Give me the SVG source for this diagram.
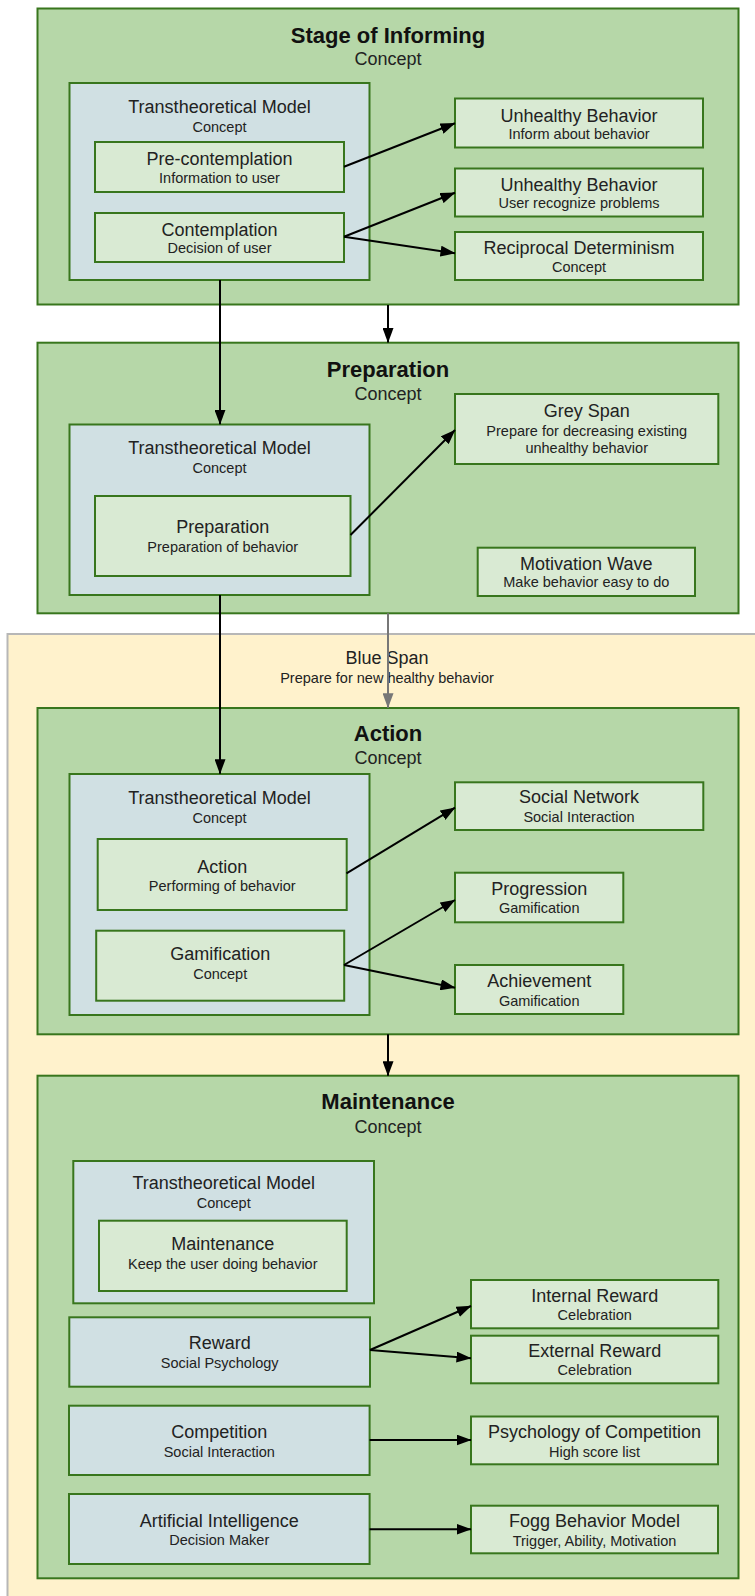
<svg xmlns="http://www.w3.org/2000/svg" width="755" height="1596" viewBox="0 0 755 1596">
  <style>
    .stage { fill: #b6d7a8; stroke: #38761d; stroke-width: 2; }
    .model { fill: #d0e0e3; stroke: #38761d; stroke-width: 2; }
    .leaf  { fill: #d9ead3; stroke: #38761d; stroke-width: 2; }
    .span  { fill: #fff2cc; stroke: #b7b7b7; stroke-width: 2; }
    text { font-family: "Liberation Sans", Arial, sans-serif; text-anchor: middle; fill: #222; }
    .title { font-size: 22px; font-weight: bold; fill: #111; }
    .main  { font-size: 18px; }
    .sub   { font-size: 14.5px; }
    .link  { stroke: #000; stroke-width: 2; fill: none; marker-end: url(#head); }
    .soft  { stroke: #777; stroke-width: 2; fill: none; marker-end: url(#headGrey); }
  </style>
  <defs>
    <marker id="head" markerUnits="userSpaceOnUse" markerWidth="15" markerHeight="11" viewBox="0 0 15 11" refX="14.5" refY="5.5" orient="auto">
      <path d="M0,0 L15,5.5 L0,11 z" fill="#000"/>
    </marker>
    <marker id="headGrey" markerUnits="userSpaceOnUse" markerWidth="15" markerHeight="11" viewBox="0 0 15 11" refX="14.5" refY="5.5" orient="auto">
      <path d="M0,0 L15,5.5 L0,11 z" fill="#777"/>
    </marker>
  </defs>

  <rect width="755" height="1596" fill="#fff"/>

  <!-- Blue Span background band -->
  <g id="blue-span">
    <rect class="span" x="7.5" y="634" width="760" height="975"/>
    <text class="main" x="387" y="664">Blue Span</text>
    <text class="sub" x="387" y="682.7">Prepare for new healthy behavior</text>
  </g>

  <!-- Stage of Informing -->
  <g id="stage-informing">
    <rect class="stage" x="37.5" y="8.5" width="701" height="296"/>
    <text class="title" x="388" y="42.7">Stage of Informing</text>
    <text class="main" x="388" y="65">Concept</text>
  </g>
  <g id="ttm-informing">
    <rect class="model" x="69.5" y="83" width="300" height="197"/>
    <text class="main" x="219.5" y="113.3">Transtheoretical Model</text>
    <text class="sub" x="219.5" y="131.7">Concept</text>
  </g>
  <g id="pre-contemplation">
    <rect class="leaf" x="95" y="142" width="249" height="50"/>
    <text class="main" x="219.5" y="165">Pre-contemplation</text>
    <text class="sub" x="219.5" y="182.7">Information to user</text>
  </g>
  <g id="contemplation">
    <rect class="leaf" x="95" y="213" width="249" height="49"/>
    <text class="main" x="219.5" y="235.5">Contemplation</text>
    <text class="sub" x="219.5" y="253">Decision of user</text>
  </g>
  <g id="unhealthy-inform">
    <rect class="leaf" x="455" y="98.5" width="248" height="49"/>
    <text class="main" x="579" y="121.7">Unhealthy Behavior</text>
    <text class="sub" x="579" y="139">Inform about behavior</text>
  </g>
  <g id="unhealthy-recognize">
    <rect class="leaf" x="455" y="168.5" width="248" height="48"/>
    <text class="main" x="579" y="190.5">Unhealthy Behavior</text>
    <text class="sub" x="579" y="208.3">User recognize problems</text>
  </g>
  <g id="reciprocal-determinism">
    <rect class="leaf" x="455" y="232" width="248" height="48"/>
    <text class="main" x="579" y="253.8">Reciprocal Determinism</text>
    <text class="sub" x="579" y="271.7">Concept</text>
  </g>

  <!-- Preparation -->
  <g id="stage-preparation">
    <rect class="stage" x="37.5" y="342.7" width="701" height="270.6"/>
    <text class="title" x="388" y="376.5">Preparation</text>
    <text class="main" x="388" y="399.5">Concept</text>
  </g>
  <g id="ttm-preparation">
    <rect class="model" x="69.5" y="424.5" width="300" height="170.5"/>
    <text class="main" x="219.5" y="454">Transtheoretical Model</text>
    <text class="sub" x="219.5" y="472.7">Concept</text>
  </g>
  <g id="preparation">
    <rect class="leaf" x="95" y="496" width="255.5" height="80"/>
    <text class="main" x="222.7" y="533.3">Preparation</text>
    <text class="sub" x="222.7" y="551.7">Preparation of behavior</text>
  </g>
  <g id="grey-span">
    <rect class="leaf" x="455" y="394" width="263.3" height="70"/>
    <text class="main" x="586.7" y="417.3">Grey Span</text>
    <text class="sub" x="586.7" y="435.5">Prepare for decreasing existing</text>
    <text class="sub" x="586.7" y="452.8">unhealthy behavior</text>
  </g>
  <g id="motivation-wave">
    <rect class="leaf" x="477.7" y="547.7" width="217.3" height="48.3"/>
    <text class="main" x="586.3" y="570">Motivation Wave</text>
    <text class="sub" x="586.3" y="587.3">Make behavior easy to do</text>
  </g>

  <!-- Action -->
  <g id="stage-action">
    <rect class="stage" x="37.5" y="708" width="701" height="326.3"/>
    <text class="title" x="388" y="741">Action</text>
    <text class="main" x="388" y="764">Concept</text>
  </g>
  <g id="ttm-action">
    <rect class="model" x="69.5" y="774" width="300" height="241"/>
    <text class="main" x="219.5" y="804.3">Transtheoretical Model</text>
    <text class="sub" x="219.5" y="822.7">Concept</text>
  </g>
  <g id="action">
    <rect class="leaf" x="97.7" y="839" width="249" height="71"/>
    <text class="main" x="222.2" y="872.7">Action</text>
    <text class="sub" x="222.2" y="891">Performing of behavior</text>
  </g>
  <g id="gamification">
    <rect class="leaf" x="96.2" y="930.7" width="248" height="70"/>
    <text class="main" x="220.2" y="960">Gamification</text>
    <text class="sub" x="220.2" y="979.3">Concept</text>
  </g>
  <g id="social-network">
    <rect class="leaf" x="455" y="782.3" width="248.3" height="47.7"/>
    <text class="main" x="579" y="803.3">Social Network</text>
    <text class="sub" x="579" y="822.3">Social Interaction</text>
  </g>
  <g id="progression">
    <rect class="leaf" x="455" y="872.7" width="168.3" height="49.6"/>
    <text class="main" x="539.2" y="895">Progression</text>
    <text class="sub" x="539.2" y="913.3">Gamification</text>
  </g>
  <g id="achievement">
    <rect class="leaf" x="455" y="965" width="168.3" height="49"/>
    <text class="main" x="539.2" y="987.3">Achievement</text>
    <text class="sub" x="539.2" y="1005.7">Gamification</text>
  </g>

  <!-- Maintenance -->
  <g id="stage-maintenance">
    <rect class="stage" x="37.5" y="1075.7" width="701" height="502.6"/>
    <text class="title" x="388" y="1109.3">Maintenance</text>
    <text class="main" x="388" y="1132.7">Concept</text>
  </g>
  <g id="ttm-maintenance">
    <rect class="model" x="73.3" y="1161" width="300.7" height="142.3"/>
    <text class="main" x="223.7" y="1189.3">Transtheoretical Model</text>
    <text class="sub" x="223.7" y="1208.3">Concept</text>
  </g>
  <g id="maintenance">
    <rect class="leaf" x="99" y="1220.7" width="247.7" height="70.3"/>
    <text class="main" x="222.8" y="1250">Maintenance</text>
    <text class="sub" x="222.8" y="1269">Keep the user doing behavior</text>
  </g>
  <g id="reward">
    <rect class="model" x="69.3" y="1317.3" width="300.7" height="69.4"/>
    <text class="main" x="219.7" y="1349.3">Reward</text>
    <text class="sub" x="219.7" y="1368.3">Social Psychology</text>
  </g>
  <g id="competition">
    <rect class="model" x="69" y="1405.7" width="300.6" height="69.3"/>
    <text class="main" x="219.3" y="1437.7">Competition</text>
    <text class="sub" x="219.3" y="1456.7">Social Interaction</text>
  </g>
  <g id="artificial-intelligence">
    <rect class="model" x="69" y="1494" width="300.6" height="70"/>
    <text class="main" x="219.3" y="1526.7">Artificial Intelligence</text>
    <text class="sub" x="219.3" y="1545">Decision Maker</text>
  </g>
  <g id="internal-reward">
    <rect class="leaf" x="471" y="1280" width="247.3" height="48.3"/>
    <text class="main" x="594.7" y="1301.7">Internal Reward</text>
    <text class="sub" x="594.7" y="1320">Celebration</text>
  </g>
  <g id="external-reward">
    <rect class="leaf" x="471" y="1335.7" width="247.3" height="47.6"/>
    <text class="main" x="594.7" y="1356.7">External Reward</text>
    <text class="sub" x="594.7" y="1375">Celebration</text>
  </g>
  <g id="psychology-of-competition">
    <rect class="leaf" x="471" y="1416.5" width="247" height="47.8"/>
    <text class="main" x="594.5" y="1438.3">Psychology of Competition</text>
    <text class="sub" x="594.5" y="1456.7">High score list</text>
  </g>
  <g id="fogg-behavior-model">
    <rect class="leaf" x="471" y="1505.7" width="247" height="47.6"/>
    <text class="main" x="594.5" y="1527.3">Fogg Behavior Model</text>
    <text class="sub" x="594.5" y="1545.7">Trigger, Ability, Motivation</text>
  </g>

  <!-- Connectors -->
  <g id="connectors">
    <line class="link" x1="344" y1="166.7" x2="455" y2="123.3"/>
    <line class="link" x1="344" y1="236.7" x2="455" y2="192.7"/>
    <line class="link" x1="344" y1="236.7" x2="455" y2="253.3"/>
    <line class="link" x1="220" y1="280" x2="220" y2="424.3"/>
    <line class="link" x1="388" y1="305" x2="388" y2="342.5"/>

    <line class="link" x1="350.5" y1="535" x2="455" y2="430"/>
    <line class="link" x1="220" y1="595" x2="220" y2="773.7"/>
    <line class="soft" x1="388" y1="613.3" x2="388" y2="707.7"/>

    <line class="link" x1="346.5" y1="873.3" x2="455" y2="807.7"/>
    <line class="link" x1="344" y1="965" x2="455" y2="900"/>
    <line class="link" x1="344" y1="965" x2="455" y2="987.7"/>
    <line class="link" x1="388" y1="1034.3" x2="388" y2="1075.7"/>

    <line class="link" x1="370" y1="1350" x2="471" y2="1306"/>
    <line class="link" x1="370" y1="1350" x2="471" y2="1358.3"/>
    <line class="link" x1="369.6" y1="1440" x2="471" y2="1440"/>
    <line class="link" x1="369.6" y1="1529.3" x2="471" y2="1529.3"/>
  </g>
</svg>
